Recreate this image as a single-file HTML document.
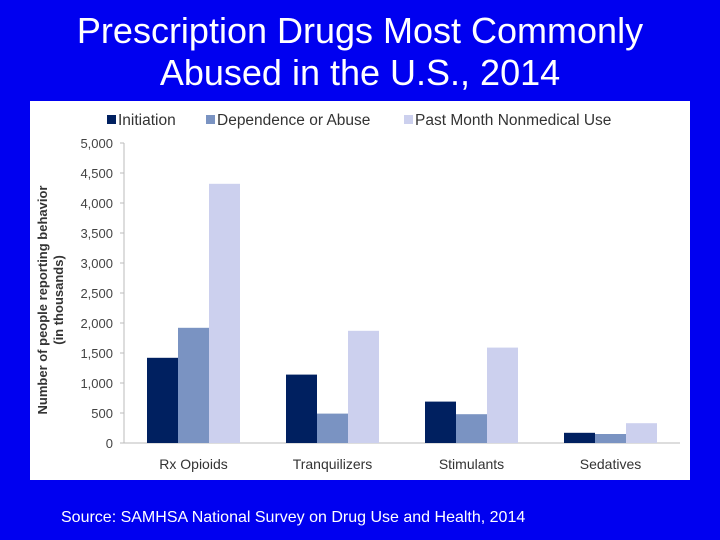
<!DOCTYPE html>
<html><head><meta charset="utf-8"><style>
body{margin:0;width:720px;height:540px;background:#0000f0;overflow:hidden;font-family:"Liberation Sans",sans-serif}
#title{position:absolute;left:0;top:10px;width:720px;text-align:center;color:#fff;font-size:36px;line-height:42px}
#panel{position:absolute;left:30px;top:101px;width:660px;height:379px;background:#fff}
#src{position:absolute;left:61px;top:509px;color:#fff;font-size:16px}
</style></head><body>
<div id="title">Prescription Drugs Most Commonly<br>Abused in the U.S., 2014</div>
<div id="panel"></div>
<svg id="chart" width="720" height="540" style="position:absolute;left:0;top:0"></svg>
<div id="src">Source: SAMHSA National Survey on Drug Use and Health, 2014</div>
<script>
const categories=["Rx Opioids","Tranquilizers","Stimulants","Sedatives"];
const seriesNames=["Initiation","Dependence or Abuse","Past Month Nonmedical Use"];
const initiation=[1420,1140,690,170];
const dependence=[1920,490,480,150];
const pastMonth=[4320,1870,1590,330];
const yTicks=[0,500,1000,1500,2000,2500,3000,3500,4000,4500,5000];
const colors=["#002060","#7a93c2","#ccd0ee"];
const series=[initiation,dependence,pastMonth];
const svg=document.getElementById('chart');const NS="http://www.w3.org/2000/svg";
const x0=124,x1=680,y0=443,y1=143,yMax=5000;
const y=v=>y0-(v/yMax)*(y0-y1);
const band=(x1-x0)/categories.length,bw=31;
function mk(t,a,txt){const e=document.createElementNS(NS,t);for(const k in a)e.setAttribute(k,a[k]);if(txt!=null)e.textContent=txt;svg.appendChild(e);return e;}
yTicks.forEach(t=>{
 const l=mk('line',{x1:120,x2:x0,y1:y(t),y2:y(t),stroke:'#bbb'});
 
 
 const tx=mk('text',{x:113,y:y(t)+5,'text-anchor':'end','font-size':13,fill:'#444','font-family':'Liberation Sans'},t.toLocaleString('en-US'));
 
 
});
const ax=mk('line',{x1:x0,x2:x0,y1:y1,y2:y0,stroke:'#bbb'});


const bx=mk('line',{x1:x0,x2:x1,y1:y0,y2:y0,stroke:'#bbb'});


categories.forEach((c,i)=>{
 const cx=x0+band*(i+0.5);
 series.forEach((s,j)=>{
  const r=mk('rect',{x:cx-1.5*bw+j*bw,y:y(s[i]),width:bw,height:y0-y(s[i]),fill:colors[j]});
  
  
 });
 const t=mk('text',{x:cx,y:469,'text-anchor':'middle','font-size':14,fill:'#333','font-family':'Liberation Sans'},c);
 
 
});
const yt=mk('text',{transform:'translate(47,300) rotate(-90)','text-anchor':'middle','font-size':13,'font-weight':'bold',fill:'#333','font-family':'Liberation Sans'},'Number of people reporting behavior');


const yt2=mk('text',{transform:'translate(63,300) rotate(-90)','text-anchor':'middle','font-size':13,'font-weight':'bold',fill:'#333','font-family':'Liberation Sans'},'(in thousands)');


const lx=[107,206,404];
seriesNames.forEach((n,j)=>{
 const r=mk('rect',{x:lx[j],y:115,width:9,height:9,fill:colors[j]});
 
 
 const t=mk('text',{x:lx[j]+11,y:125,'font-size':15.5,fill:'#333','font-family':'Liberation Sans'},n);
 
 
});
</script>
</body></html>
